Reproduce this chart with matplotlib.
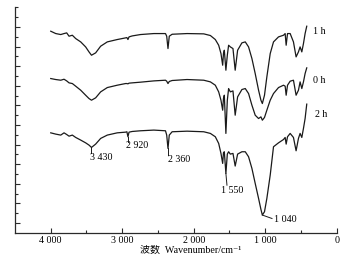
import matplotlib
matplotlib.use("Agg")
import matplotlib.pyplot as plt

# ---- data ----
wavenumber = [4000, 3930, 3860, 3814, 3777, 3744, 3698, 3651, 3581, 3512, 3465, 3430,
              3372, 3302, 3209, 3070, 2953, 2935, 2920, 2905, 2860, 2744, 2558, 2395,
              2378, 2360, 2342, 2302, 2093, 1860, 1767, 1698, 1651, 1619, 1595, 1584,
              1572, 1550, 1530, 1512, 1488, 1451, 1420, 1386, 1326, 1279, 1233, 1186,
              1140, 1093, 1060, 1040, 1010, 977, 930, 884, 814, 744, 721, 707, 688,
              651, 605, 568, 535, 512, 488, 465, 442, 419]

t_1h = [20.56, 20.32, 20.22, 20.32, 20.39, 20.05, 20.15, 19.81, 19.47, 18.96, 18.45, 18.11,
        18.35, 19.03, 19.47, 19.71, 19.88, 19.91, 19.71, 19.98, 20.08, 20.22, 20.32, 20.32,
        20.05, 18.79, 20.05, 20.25, 20.32, 20.29, 20.12, 19.71, 19.13, 18.28, 17.09, 18.28,
        18.62, 16.58, 18.11, 19.13, 18.96, 18.79, 16.58, 18.62, 19.37, 19.47, 18.96, 17.77,
        16.24, 14.54, 13.52, 13.18, 14.03, 15.90, 18.28, 19.47, 19.98, 20.15, 20.32, 19.13,
        20.32, 20.32, 19.47, 17.94, 18.45, 18.96, 18.45, 19.30, 20.32, 21.07]

t_0h = [15.73, 15.63, 15.56, 15.66, 15.49, 15.29, 15.22, 14.95, 14.54, 14.03, 13.69, 13.52,
        13.76, 14.37, 14.81, 15.05, 15.22, 15.22, 15.19, 15.26, 15.29, 15.36, 15.49, 15.56,
        15.46, 15.22, 15.43, 15.53, 15.63, 15.56, 15.39, 15.05, 14.37, 13.52, 12.50, 13.69,
        14.03, 10.13, 13.52, 14.71, 14.37, 14.47, 11.99, 13.86, 14.61, 14.71, 14.20, 13.01,
        11.99, 11.65, 11.82, 11.48, 11.76, 12.50, 13.52, 14.20, 14.81, 15.05, 14.95, 14.03,
        15.05, 15.46, 15.56, 14.03, 14.54, 15.39, 14.71, 15.39, 16.24, 16.82]

t_2h = [10.19, 10.06, 9.96, 10.19, 10.02, 9.85, 9.96, 9.72, 9.45, 9.17, 8.94, 8.70,
        9.04, 9.62, 9.96, 10.19, 10.26, 10.30, 9.79, 10.26, 10.33, 10.40, 10.47, 10.40,
        9.96, 8.60, 9.96, 10.30, 10.36, 10.30, 10.13, 9.79, 9.11, 8.09, 7.07, 8.15,
        8.26, 6.05, 8.02, 8.26, 8.02, 8.09, 6.80, 8.02, 8.26, 8.26, 7.75, 6.56,
        5.03, 3.50, 2.38, 1.80, 2.14, 3.50, 5.88, 8.77, 9.17, 9.51, 9.72, 9.04,
        9.79, 10.13, 9.72, 8.36, 9.62, 10.13, 9.72, 10.64, 11.65, 13.12]

series_labels = ["1 h", "0 h", "2 h"]
peak_labels = ["3 430", "2 920", "2 360", "1 550", "1 040"]
peak_positions = [3430, 2920, 2360, 1550, 1040]
x_ticks = [4000, 3000, 2000, 1000, 0]
x_tick_labels = ["4 000", "3 000", "2 000", "1 000", "0"]

SERIF = ["Liberation Serif", "DejaVu Serif", "Noto Sans CJK SC"]
plt.rcParams["font.family"] = SERIF

W, H = 351, 272
fig = plt.figure(figsize=(W / 100, H / 100), dpi=100)
ax = fig.add_axes([15 / W, 1 - 232.7 / H, (336.7 - 15) / W, (232.7 - 7.3) / H])

lc = "#1a1a1a"
for vals in (t_1h, t_0h, t_2h):
    ax.plot(wavenumber, vals, color=lc, lw=0.9)

ax.set_xlim(4500, 0)
ax.set_ylim(0, 23)

for s in ("top", "right"):
    ax.spines[s].set_visible(False)
for s in ("left", "bottom"):
    ax.spines[s].set_linewidth(0.9)
    ax.spines[s].set_color("#2a2a2a")

fs = 7.2
ax.set_xticks(x_ticks)
ax.set_xticklabels(x_tick_labels, fontsize=fs)
ax.set_xticks([3500, 2500, 1500, 500], minor=True)
ax.set_yticks(list(range(1, 23, 2)))
ax.set_yticks(list(range(2, 24, 2)) + [23], minor=True)
ax.set_yticklabels([])
ax.tick_params(axis="both", which="major", direction="in", length=3.5, width=0.8, color="#2a2a2a", pad=2.5)
ax.tick_params(axis="both", which="minor", direction="in", length=2.0, width=0.8, color="#2a2a2a")

# series labels
ax.text(330, 20.49, series_labels[0], fontsize=fs, va="center", ha="left")
ax.text(330, 15.57, series_labels[1], fontsize=fs, va="center", ha="left")
ax.text(303, 12.07, series_labels[2], fontsize=fs, va="center", ha="left")

# peak annotations (leader lines + text)
leader = dict(color=lc, lw=0.7)
ax.plot([3430, 3430], [8.70, 8.10], **leader)
ax.text(3456, 7.72, peak_labels[0], fontsize=fs, va="center", ha="left")
ax.plot([2920, 2920], [9.79, 9.25], **leader)
ax.text(2953, 8.91, peak_labels[1], fontsize=fs, va="center", ha="left")
ax.plot([2360, 2360], [8.60, 7.95], **leader)
ax.text(2358, 7.48, peak_labels[2], fontsize=fs, va="center", ha="left")
ax.plot([1550, 1535], [6.05, 4.85], **leader)
ax.text(1614, 4.28, peak_labels[3], fontsize=fs, va="center", ha="left")
ax.plot([1040, 905], [1.80, 1.45], **leader)
ax.text(884, 1.37, peak_labels[4], fontsize=fs, va="center", ha="left")

fig.text(190.5 / W, 1 - 250 / H, "波数  Wavenumber/cm\u207b\u00b9", fontsize=fs,
         ha="center", va="center", family=SERIF)

fig.savefig("out.png", dpi=100)
